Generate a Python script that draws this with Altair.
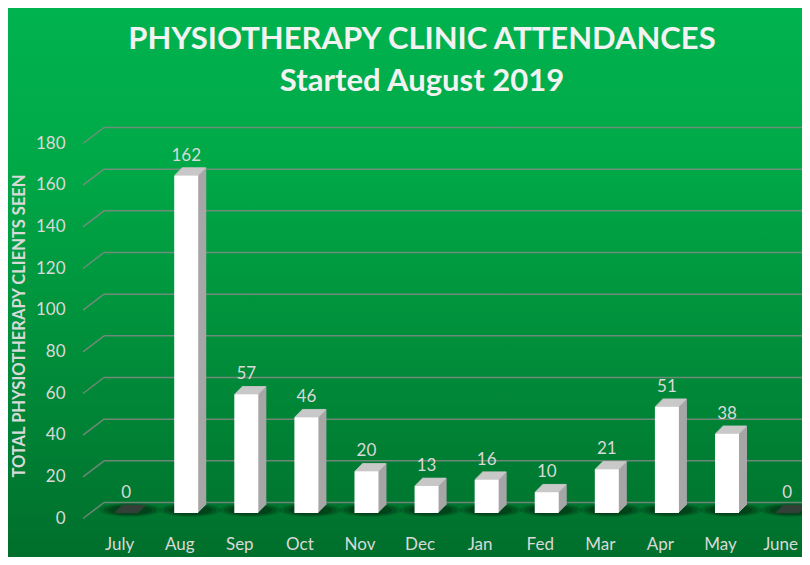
import altair as alt
import pandas as pd

months = ["July", "Aug", "Sep", "Oct", "Nov", "Dec", "Jan", "Fed", "Mar", "Apr", "May", "June"]
counts = [0, 162, 57, 46, 20, 13, 16, 10, 21, 51, 38, 0]
ticks = [0, 20, 40, 60, 80, 100, 120, 140, 160, 180]

W, H = 714, 375
PAD = {"left": 80, "top": 130, "right": 0, "bottom": 44}
FONT = "Lato"
LABEL_COL = "#d9d9d9"
DEPTH = 8

df = pd.DataFrame({"idx": list(range(len(months))), "month": months, "count": counts})
tdf = pd.DataFrame({"tick": ticks})
bg = pd.DataFrame({"a": [0]})

label_expr = "[" + ",".join("'" + m + "'" for m in months) + "][datum.value]"

xscale = alt.Scale(domain=[-0.5514, 11.165], nice=False, zero=False)
yscale = alt.Scale(domain=[0, 180], nice=False)
xaxis = alt.Axis(values=list(range(len(months))), labelExpr=label_expr, title=None,
                 domain=False, ticks=False, grid=False, labelFont=FONT, labelFontSize=17,
                 labelColor=LABEL_COL, labelPadding=23, labelOffset=-7, zindex=1)
yaxis = alt.Axis(values=ticks, title="TOTAL PHYSIOTHERAPY CLIENTS SEEN", domain=False,
                 ticks=False, grid=False, labelFont=FONT, labelFontSize=17, labelColor=LABEL_COL,
                 labelPadding=23, labelOffset=5, titleFont=FONT, titleFontSize=16.5,
                 titleFontWeight="bold", titleColor=LABEL_COL, titlePadding=8, zindex=1)


def X():
    return alt.X("idx:Q", scale=xscale, axis=xaxis)


def Y(field):
    return alt.Y(field, scale=yscale, axis=yaxis)


background = alt.Chart(bg).mark_rect(
    color=alt.Gradient(gradient="linear",
                       stops=[alt.GradientStop(color="#00b34f", offset=0),
                              alt.GradientStop(color="#00a846", offset=0.3),
                              alt.GradientStop(color="#006f2c", offset=1)],
                       x1=0, x2=0, y1=0, y2=1)
).encode(x=alt.value(-PAD["left"]), x2=alt.value(W + PAD["right"]),
         y=alt.value(-PAD["top"]), y2=alt.value(H + PAD["bottom"]))

grid_diag = alt.Chart(tdf).mark_rule(color="#8a8a8a", strokeWidth=1.5, opacity=0.8,
                                     yOffset=5.5, y2Offset=-10.5).encode(
    x=alt.value(-5), x2=alt.value(16), y=Y("tick:Q"), y2="tick:Q")
grid_back = alt.Chart(tdf).mark_rule(color="#8a8a8a", strokeWidth=1.5, opacity=0.8,
                                     yOffset=-10.5).encode(
    x=alt.value(16), x2=alt.value(W), y=Y("tick:Q"))

ellipse = "M-1,0 A1,0.22 0 1,0 1,0 A1,0.22 0 1,0 -1,0 Z"
shadows = []
for sz, op in [(3800, 0.2), (2800, 0.28), (1900, 0.4)]:
    shadows.append(alt.Chart(df).mark_point(shape=ellipse, filled=True, color="#002a0f",
                                            opacity=op, size=sz, xOffset=4, yOffset=-3,
                                            strokeWidth=0).encode(x=X(), y=Y("zero:Q")).transform_calculate(zero="0"))

sides = []
tops = []
for k in range(DEPTH, 0, -1):
    sides.append(alt.Chart(df).mark_bar(size=24, color="#a6a6a6", xOffset=k, yOffset=-k,
                                        y2Offset=-k).encode(x=X(), y=Y("count:Q"), y2=alt.datum(0)))
for k in range(1, DEPTH + 1):
    tops.append(alt.Chart(df).mark_tick(orient="horizontal", size=24, thickness=1.5,
                                        xOffset=k - 0.5, yOffset=-k + 0.5).encode(
        x=X(), y=Y("count:Q"),
        color=alt.condition("datum.count == 0", alt.value("#404040"), alt.value("#d2d2d2"))))

front = alt.Chart(df).mark_bar(size=24, color="#ffffff").encode(
    x=X(), y=Y("count:Q"), y2=alt.datum(0))

labels = alt.Chart(df).mark_text(font=FONT, fontSize=17, color=LABEL_COL, dy=-20,
                                 baseline="middle").encode(
    x=X(), y=Y("count:Q"), text="count:Q")

chart = alt.layer(background, grid_diag, grid_back, *shadows, *sides, *tops, front, labels).properties(
    width=W, height=H, padding=PAD,
    autosize=alt.AutoSizeParams(type="none"),
    title=alt.TitleParams(text=["PHYSIOTHERAPY CLINIC ATTENDANCES", "Started August 2019"],
                          font=FONT, fontSize=31, fontWeight="bold", color="#f2f2f2",
                          lineHeight=42, anchor="middle", dx=-23, offset=-90),
).configure_view(stroke=None).configure(background="#00a046")

chart.save("out.html", embed_options={"renderer": "svg", "actions": False})
